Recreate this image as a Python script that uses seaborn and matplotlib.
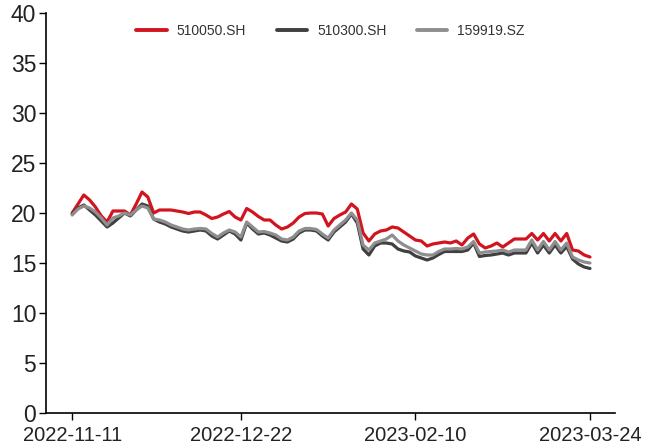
import numpy as np
import pandas as pd
import matplotlib
matplotlib.use("Agg")
import matplotlib.pyplot as plt
import seaborn as sns

# Trading days 2022-11-11 .. 2023-03-24 (SSE calendar)
holidays = ["2023-01-02", "2023-01-23", "2023-01-24", "2023-01-25", "2023-01-26", "2023-01-27"]
dates = pd.bdate_range("2022-11-11", "2023-03-24", freq="C", holidays=holidays).strftime("%Y-%m-%d").tolist()

series_names = ["510050.SH", "510300.SH", "159919.SZ"]

s510050 = [20.0, 20.9, 21.8, 21.3, 20.6, 19.7, 19.1, 20.2, 20.2, 20.2,
           19.8, 20.9, 22.1, 21.6, 20.0, 20.3, 20.3, 20.3, 20.2, 20.1,
           19.95, 20.1, 20.1, 19.8, 19.45, 19.6, 19.9, 20.15, 19.6, 19.3,
           20.45, 20.1, 19.65, 19.3, 19.3, 18.8, 18.4, 18.6, 19.0, 19.6,
           19.95, 20.0, 20.0, 19.9, 18.7, 19.45, 19.8, 20.1, 20.9, 20.4,
           18.0, 17.2, 17.9, 18.2, 18.3, 18.6, 18.5, 18.1, 17.7, 17.3,
           17.2, 16.7, 16.9, 17.0, 17.1, 17.0, 17.2, 16.8, 17.5, 17.9,
           16.9, 16.5, 16.7, 17.0, 16.6, 17.0, 17.4, 17.4, 17.4, 17.95,
           17.3, 17.95, 17.2, 17.95, 17.2, 17.95, 16.3, 16.2, 15.8, 15.6]

s510300 = [19.9, 20.5, 20.8, 20.3, 19.8, 19.2, 18.6, 19.0, 19.5, 20.0,
           19.7, 20.3, 20.9, 20.7, 19.4, 19.1, 18.9, 18.6, 18.4, 18.2,
           18.1, 18.2, 18.3, 18.2, 17.7, 17.4, 17.8, 18.2, 17.9, 17.3,
           19.0, 18.4, 17.9, 18.0, 17.8, 17.5, 17.2, 17.1, 17.4, 18.0,
           18.3, 18.3, 18.2, 17.7, 17.3, 18.1, 18.6, 19.1, 19.9, 19.0,
           16.4, 15.8, 16.7, 17.0, 17.0, 16.9, 16.4, 16.2, 16.1, 15.7,
           15.5, 15.3, 15.5, 15.85, 16.15, 16.15, 16.15, 16.15, 16.3, 17.0,
           15.65, 15.75, 15.8, 15.9, 16.0, 15.8, 16.0, 16.0, 16.0, 17.0,
           16.0, 16.8, 16.0, 16.8, 16.0, 16.65, 15.4, 14.9, 14.6, 14.45]

s159919 = [19.8, 20.4, 20.7, 20.5, 20.1, 19.5, 18.8, 19.5, 19.7, 20.0,
           19.8, 20.3, 20.7, 20.5, 19.4, 19.3, 19.1, 18.8, 18.6, 18.4,
           18.3, 18.4, 18.45, 18.4, 17.95, 17.6, 18.0, 18.3, 18.1, 17.6,
           19.1, 18.6, 18.1, 18.15, 18.0, 17.8, 17.4, 17.3, 17.6, 18.2,
           18.45, 18.45, 18.35, 17.9, 17.5, 18.3, 18.8, 19.3, 20.0, 19.3,
           16.8, 16.3, 17.0, 17.2, 17.4, 17.8, 17.2, 16.8, 16.5, 16.2,
           15.9, 15.8, 15.8, 16.15, 16.4, 16.4, 16.45, 16.4, 16.6, 17.15,
           16.0, 16.1, 16.15, 16.2, 16.3, 16.1, 16.3, 16.3, 16.3, 17.3,
           16.3, 17.15, 16.3, 17.15, 16.3, 17.0, 15.6, 15.3, 15.1, 15.0]

y_ticks = [0, 5, 10, 15, 20, 25, 30, 35, 40]
x_tick_labels = ["2022-11-11", "2022-12-22", "2023-02-10", "2023-03-24"]

colors = ["#D2141E", "#404040", "#8E8E8E"]

df = pd.DataFrame({
    "date": dates * 3,
    "value": s510050 + s510300 + s159919,
    "series": [series_names[0]] * len(dates) + [series_names[1]] * len(dates) + [series_names[2]] * len(dates),
})

sns.set_theme(style="white")
plt.rcParams["font.family"] = ["Liberation Sans", "DejaVu Sans"]

fig = plt.figure(figsize=(6.62, 4.48), dpi=100)
ax = fig.add_axes([46 / 662, 35 / 448, (615 - 46) / 662, (413 - 13) / 448])

sns.lineplot(data=df, x="date", y="value", hue="series", hue_order=series_names,
             palette=colors, linewidth=2.3, ax=ax, sort=False)

ax.set_ylim(0, 40)
ax.set_yticks(y_ticks)
ax.set_yticklabels([str(v) for v in y_ticks])
ax.set_xlim(-4.5, 93.3)
tick_pos = [dates.index(d) for d in x_tick_labels]
ax.set_xticks(tick_pos)
ax.set_xticklabels(x_tick_labels)
ax.set_xlabel("")
ax.set_ylabel("")

for side in ["top", "right"]:
    ax.spines[side].set_visible(False)
for side in ["left", "bottom"]:
    ax.spines[side].set_color("black")
    ax.spines[side].set_linewidth(1.2)

ax.tick_params(axis="both", which="major", direction="out", length=5, width=1.0,
               color="black", labelcolor="#222222", left=True, bottom=True)
ax.tick_params(axis="y", labelsize=16.5, pad=2)
ax.tick_params(axis="x", labelsize=14.5, pad=4)

leg = ax.legend(loc="center", bbox_to_anchor=(0.5, 0.955), ncol=3, frameon=False,
                fontsize=10, handlelength=2.2, handletextpad=0.7, columnspacing=2.2)
for line in leg.get_lines():
    line.set_linewidth(2.8)
for t in leg.get_texts():
    t.set_color("#333333")

fig.savefig("out.png", dpi=100)
